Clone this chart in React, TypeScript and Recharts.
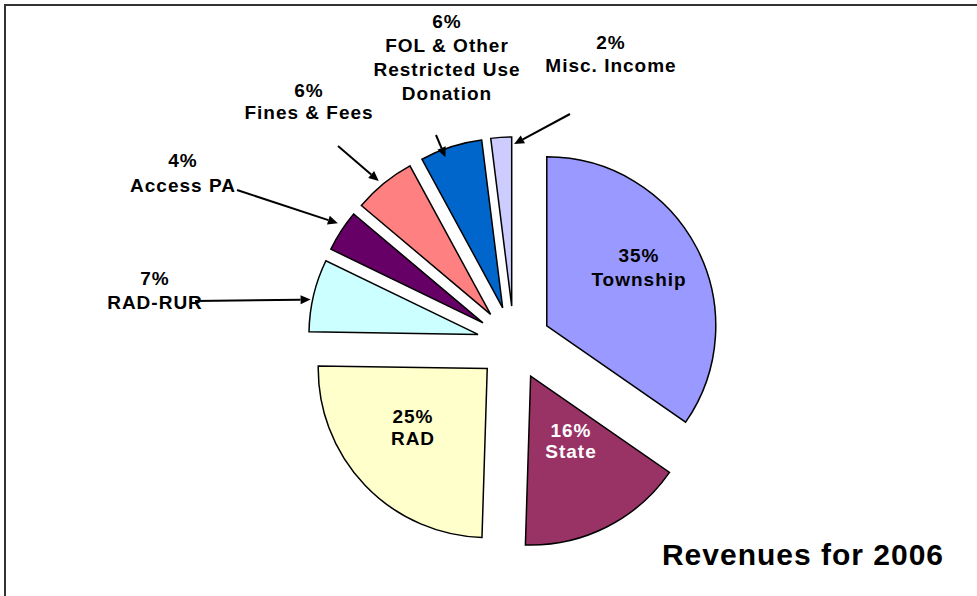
import { PieChart, Pie, Cell, Sector } from "recharts";

const categories = [
  "Township",
  "State",
  "RAD",
  "RAD-RUR",
  "Access PA",
  "Fines & Fees",
  "FOL & Other\nRestricted Use\nDonation",
  "Misc. Income",
];
const shares = [35, 16, 25, 7, 4, 6, 6, 2];
const colors = ["#9999FF", "#993366", "#FFFFCC", "#CCFFFF", "#660066", "#FF8080", "#0066CC", "#CCCCFF"];

const data = categories.map((name, i) => ({ name, value: shares[i] }));

const CX = 514;
const CY = 343;
const R = 169;
const EXPLODE = 37;
const FONT = "'Liberation Sans', Arial, sans-serif";

// where each label sits (first baseline), and for outside labels the leader start
// plus the arrow tip in polar terms relative to the exploded slice
const labelSpots = [
  { x: 639, y: 262, gap: 24, color: "#000" },
  { x: 571, y: 437, gap: 21, color: "#fff" },
  { x: 413, y: 423, gap: 22, color: "#000" },
  { x: 155, y: 285, gap: 24, color: "#000", from: [195, 301], tipR: 171, tipDa: 1.6 },
  { x: 183, y: 167, gap: 25, color: "#000", from: [237, 190], tipR: 176, tipDa: -1.5 },
  { x: 309, y: 97, gap: 22, color: "#000", from: [338, 146], tipR: 174, tipDa: 0.8 },
  { x: 447, y: 28, gap: 24, color: "#000", from: [436, 135], tipR: 161, tipDa: 3 },
  { x: 611, y: 49, gap: 23, color: "#000", from: [570, 114], tipR: 162, tipDa: -4.4 },
];

const RAD = Math.PI / 180;

function explodedCenter(cx: number, cy: number, midAngle: number) {
  return {
    x: cx + EXPLODE * Math.cos(-midAngle * RAD),
    y: cy + EXPLODE * Math.sin(-midAngle * RAD),
  };
}

const ExplodedSector = (props: any) => {
  const c = explodedCenter(props.cx, props.cy, props.midAngle);
  return <Sector {...props} cx={c.x} cy={c.y} />;
};

const renderLabel = (props: any) => {
  const { cx, cy, midAngle, index, value, name } = props;
  const spot = labelSpots[index];
  const lines = [`${value}%`, ...String(name).split("\n")];
  let arrow = null;
  if (spot.from) {
    const c = explodedCenter(cx, cy, midAngle);
    const a = -(midAngle + (spot.tipDa ?? 0)) * RAD;
    const tx = c.x + (spot.tipR ?? R) * Math.cos(a);
    const ty = c.y + (spot.tipR ?? R) * Math.sin(a);
    const [sx, sy] = spot.from;
    const len = Math.hypot(tx - sx, ty - sy);
    const ux = (tx - sx) / len;
    const uy = (ty - sy) / len;
    const bx = tx - ux * 10;
    const by = ty - uy * 10;
    const head = `${tx},${ty} ${bx - uy * 4.5},${by + ux * 4.5} ${bx + uy * 4.5},${by - ux * 4.5}`;
    arrow = (
      <g>
        <line x1={sx} y1={sy} x2={bx} y2={by} stroke="#000" strokeWidth={2} />
        <polygon points={head} fill="#000" stroke="none" />
      </g>
    );
  }
  return (
    <g key={`lbl-${index}`}>
      {lines.map((t, i) => (
        <text
          key={i}
          x={spot.x}
          y={spot.y + i * spot.gap}
          textAnchor="middle"
          fill={spot.color}
          stroke="none"
          fontFamily={FONT}
          fontWeight="bold"
          fontSize={19}
          letterSpacing={1}
        >
          {t}
        </text>
      ))}
      {arrow}
    </g>
  );
};

export default function App() {
  return (
    <div style={{ position: "absolute", left: 0, top: 0, width: 977, height: 596, background: "#fff", overflow: "hidden" }}>
      <PieChart
        width={977}
        height={596}
        margin={{ top: 0, right: 0, bottom: 0, left: 0 }}
        style={{ position: "absolute", left: 0, top: 0 }}
      >
        <Pie
          data={data}
          dataKey="value"
          nameKey="name"
          cx={CX}
          cy={CY}
          outerRadius={R}
          startAngle={90}
          endAngle={-270}
          stroke="#000"
          strokeWidth={1.5}
          shape={ExplodedSector}
          label={renderLabel}
          labelLine={false}
          isAnimationActive={false}
        >
          {data.map((d, i) => (
            <Cell key={d.name} fill={colors[i]} />
          ))}
        </Pie>
      </PieChart>
      <svg width={977} height={596} style={{ position: "absolute", left: 0, top: 0, pointerEvents: "none" }}>
        <line x1={5} y1={4} x2={5} y2={596} stroke="#333" strokeWidth={2} />
        <line x1={4} y1={5} x2={977} y2={5} stroke="#333" strokeWidth={2} />
        <text x={803} y={565} textAnchor="middle" fontFamily={FONT} fontWeight="bold" fontSize={30} letterSpacing={1} fill="#000">
          Revenues for 2006
        </text>
      </svg>
    </div>
  );
}
